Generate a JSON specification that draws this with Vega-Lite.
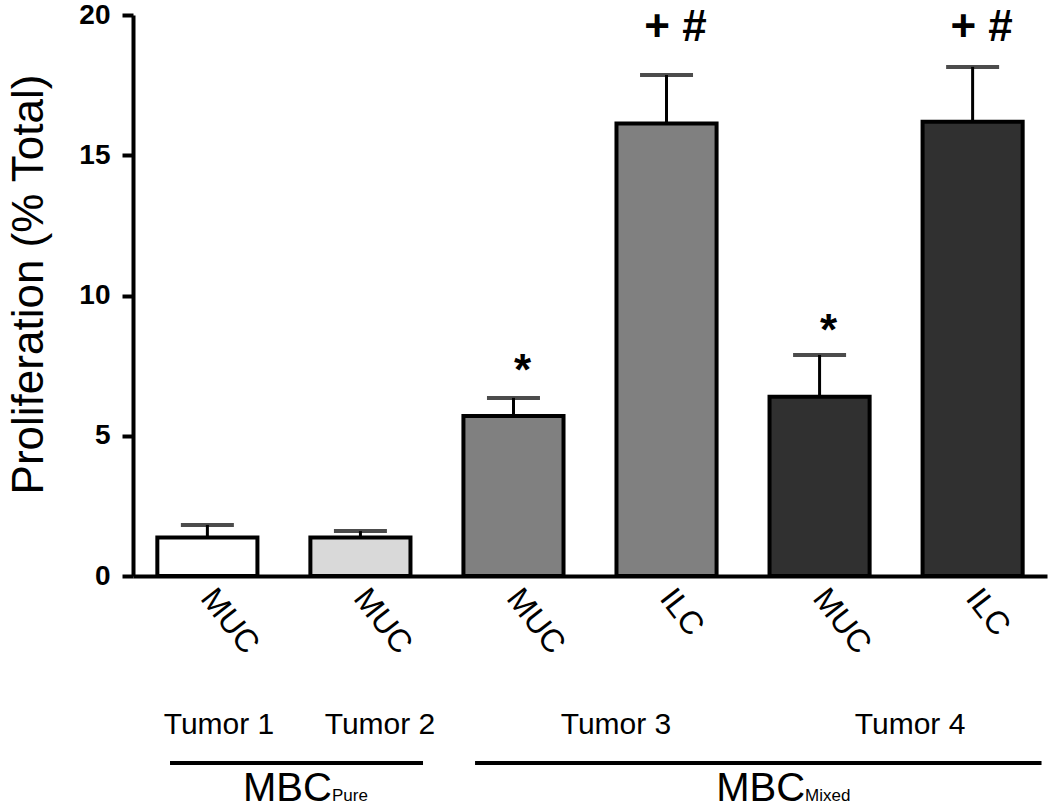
{
  "$schema": "https://vega.github.io/schema/vega-lite/v6.json",
  "width": 914,
  "height": 561,
  "autosize": {"type": "none"},
  "padding": {"left": 133, "top": 15, "right": 3, "bottom": 233},
  "background": "white",
  "config": {"view": {"stroke": null}, "font": "Liberation Sans"},
  "datasets": {
    "bars": [
      {"id": "Tumor 1 MUC", "tumor": "Tumor 1", "value": 1.37, "upper": 1.82, "sig": "", "sigY": 0},
      {"id": "Tumor 2 MUC", "tumor": "Tumor 2", "value": 1.37, "upper": 1.6, "sig": "", "sigY": 0},
      {"id": "Tumor 3 MUC", "tumor": "Tumor 3", "value": 5.7, "upper": 6.35, "sig": "*", "sigY": 6.81},
      {"id": "Tumor 3 ILC", "tumor": "Tumor 3", "value": 16.13, "upper": 17.86, "sig": "+ #", "sigY": 19.09},
      {"id": "Tumor 4 MUC", "tumor": "Tumor 4", "value": 6.39, "upper": 7.88, "sig": "*", "sigY": 8.24},
      {"id": "Tumor 4 ILC", "tumor": "Tumor 4", "value": 16.19, "upper": 18.15, "sig": "+ #", "sigY": 19.09}
    ],
    "tumors": [
      {"label": "Tumor 1", "x": 0.076, "y": -5.633},
      {"label": "Tumor 2", "x": 1.128, "y": -5.633},
      {"label": "Tumor 3", "x": 2.67, "y": -5.633},
      {"label": "Tumor 4", "x": 4.591, "y": -5.633}
    ],
    "groups": [
      {"x": -0.244, "x2": 1.409, "y": -6.667, "main": "MBC", "sub": "Pure", "sx": 0.814, "ty": -8.02},
      {"x": 1.749, "x2": 5.45, "y": -6.667, "main": "MBC", "sub": "Mixed", "sx": 3.905, "ty": -8.02}
    ]
  },
  "layer": [
    {
      "data": {"name": "bars"},
      "encoding": {
        "x": {
          "field": "id",
          "type": "nominal",
          "sort": null,
          "scale": {"paddingInner": 0.346, "paddingOuter": 0.159},
          "axis": {
            "title": null,
            "ticks": false,
            "domainWidth": 4,
            "domainColor": "black",
            "labelExpr": "slice(datum.label, -3)",
            "labelAngle": 52,
            "labelAlign": "left",
            "labelBaseline": "middle",
            "labelFontSize": 32,
            "labelColor": "black",
            "labelPadding": 16
          }
        }
      },
      "layer": [
        {
          "mark": {"type": "bar", "stroke": "black", "strokeWidth": 4},
          "encoding": {
            "y": {
              "field": "value",
              "type": "quantitative",
              "scale": {"domain": [0, 20], "nice": false},
              "axis": {
                "values": [0, 5, 10, 15, 20],
                "grid": false,
                "domainWidth": 4,
                "domainColor": "black",
                "tickWidth": 4,
                "tickSize": 11,
                "tickColor": "black",
                "labelFontSize": 28,
                "labelFontWeight": "bold",
                "labelColor": "black",
                "labelPadding": 12,
                "title": "Proliferation (% Total)",
                "titleFontSize": 44,
                "titleFontWeight": "normal",
                "titleColor": "black",
                "titleAngle": -90,
                "titleBaseline": "alphabetic",
                "titleX": -91,
                "titleY": 269
              }
            },
            "color": {
              "field": "tumor",
              "type": "nominal",
              "scale": {"domain": ["Tumor 1", "Tumor 2", "Tumor 3", "Tumor 4"], "range": ["#ffffff", "#d9d9d9", "#808080", "#303030"]},
              "legend": null
            }
          }
        },
        {
          "mark": {"type": "rule", "strokeWidth": 3, "color": "black"},
          "encoding": {
            "y": {"field": "value", "type": "quantitative", "scale": {"domain": [0, 20], "nice": false}},
            "y2": {"field": "upper"}
          }
        },
        {
          "mark": {"type": "tick", "size": 53, "thickness": 4, "color": "black", "orient": "horizontal"},
          "encoding": {
            "y": {"field": "upper", "type": "quantitative", "scale": {"domain": [0, 20], "nice": false}}
          }
        },
        {
          "transform": [{"filter": "datum.sig != ''"}],
          "mark": {"type": "text", "dx": 9, "fontSize": 44, "fontWeight": "bold", "baseline": "alphabetic", "align": "center", "color": "black"},
          "encoding": {
            "y": {"field": "sigY", "type": "quantitative", "scale": {"domain": [0, 20], "nice": false}},
            "text": {"field": "sig"}
          }
        }
      ]
    },
    {
      "data": {"name": "tumors"},
      "mark": {"type": "text", "fontSize": 30, "align": "center", "baseline": "alphabetic", "color": "black"},
      "encoding": {
        "x": {"field": "x", "type": "quantitative", "scale": {"domain": [-0.4858, 5.4858], "nice": false, "zero": false}, "axis": null},
        "y": {"field": "y", "type": "quantitative", "scale": {"domain": [0, 20], "nice": false}},
        "text": {"field": "label"}
      }
    },
    {
      "data": {"name": "groups"},
      "layer": [
        {
          "mark": {"type": "rule", "strokeWidth": 4, "color": "black"},
          "encoding": {
            "x": {"field": "x", "type": "quantitative", "scale": {"domain": [-0.4858, 5.4858], "nice": false, "zero": false}, "axis": null},
            "x2": {"field": "x2"},
            "y": {"field": "y", "type": "quantitative", "scale": {"domain": [0, 20], "nice": false}}
          }
        },
        {
          "mark": {"type": "text", "fontSize": 40, "align": "right", "baseline": "alphabetic", "color": "black"},
          "encoding": {
            "x": {"field": "sx", "type": "quantitative", "scale": {"domain": [-0.4858, 5.4858], "nice": false, "zero": false}, "axis": null},
            "y": {"field": "ty", "type": "quantitative", "scale": {"domain": [0, 20], "nice": false}},
            "text": {"field": "main"}
          }
        },
        {
          "mark": {"type": "text", "fontSize": 17, "align": "left", "baseline": "alphabetic", "color": "black"},
          "encoding": {
            "x": {"field": "sx", "type": "quantitative", "scale": {"domain": [-0.4858, 5.4858], "nice": false, "zero": false}, "axis": null},
            "y": {"field": "ty", "type": "quantitative", "scale": {"domain": [0, 20], "nice": false}},
            "text": {"field": "sub"}
          }
        }
      ]
    }
  ],
  "resolve": {"scale": {"x": "independent"}}
}
